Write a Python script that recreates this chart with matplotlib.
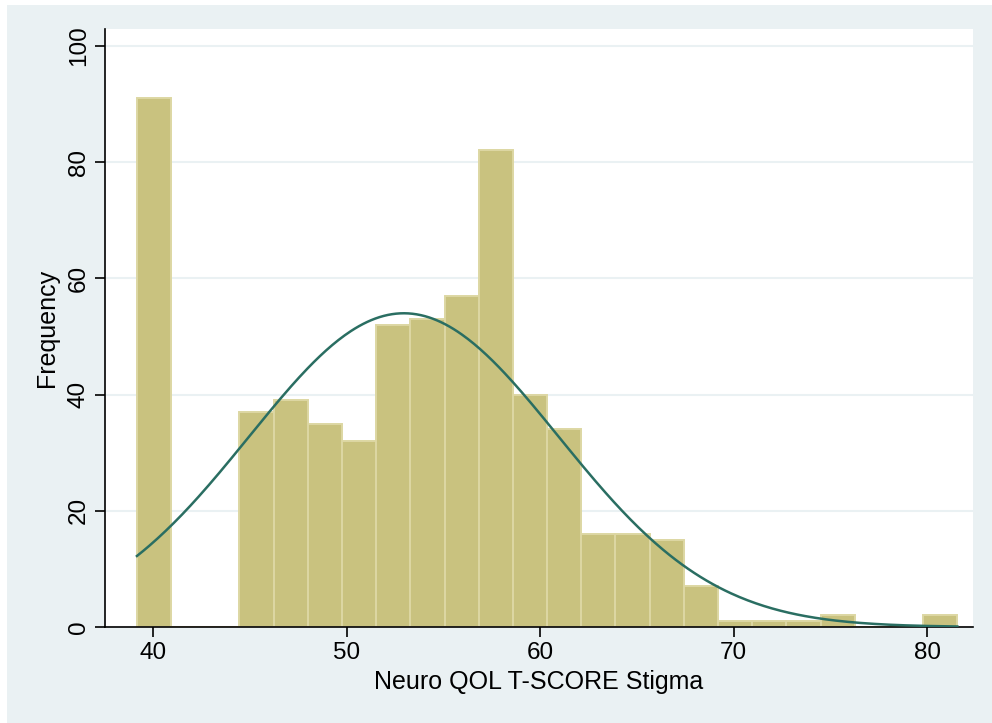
import numpy as np
import matplotlib
matplotlib.use("Agg")
import matplotlib.pyplot as plt
from matplotlib.patches import Rectangle

# ---- data ----
bin_start = 39.17
bin_width = 1.766
counts = [91, 0, 0, 37, 39, 35, 32, 52, 53, 57, 82, 40, 34, 16, 16, 15, 7,
          1, 1, 1, 2, 0, 0, 2]
fit_mean = 52.96
fit_sd = 8.0
x_ticks = [40, 50, 60, 70, 80]
y_ticks = [0, 20, 40, 60, 80, 100]
x_label = "Neuro QOL T-SCORE Stigma"
y_label = "Frequency"

plt.rcParams['font.family'] = ['Liberation Sans', 'DejaVu Sans']

W, H = 992, 723
fig = plt.figure(figsize=(W / 100, H / 100), dpi=100, facecolor="white")
bg = "#EAF1F3"
fig.patches.append(Rectangle((7 / W, 0), 1 - 7 / W, 1 - 5 / H,
                             transform=fig.transFigure, facecolor=bg,
                             edgecolor="none", zorder=-10))

ax = fig.add_axes([105 / W, 1 - 627 / H, (972.7 - 105) / W, (627 - 29) / H])
ax.set_facecolor("white")

n = len(counts)
edges = bin_start + bin_width * np.arange(n + 1)
ax.bar(edges[:-1], counts, width=bin_width, align="edge",
       color="#C9C27F", edgecolor="#DDD7A3", linewidth=1.4, zorder=2)

total = sum(counts)
xs = np.linspace(edges[0], edges[-1], 400)
ys = total * bin_width / (fit_sd * np.sqrt(2 * np.pi)) * np.exp(-0.5 * ((xs - fit_mean) / fit_sd) ** 2)
ax.plot(xs, ys, color="#2A6E62", linewidth=1.8, zorder=3)

ax.set_xlim(37.52, 82.35)
ax.set_ylim(0, 102.9)
ax.set_xticks(x_ticks)
ax.set_yticks(y_ticks)
ax.set_yticklabels([str(v) for v in y_ticks], rotation=90, va="center")
ax.grid(axis="y", color=bg, linewidth=1.5, zorder=0)
ax.set_axisbelow(True)
for s in ["top", "right"]:
    ax.spines[s].set_visible(False)
for s in ["left", "bottom"]:
    ax.spines[s].set_color("black")
    ax.spines[s].set_linewidth(1.2)
ax.tick_params(axis="both", direction="out", length=7, width=1.2,
               labelsize=17.5, colors="black", pad=4)
ax.set_xlabel(x_label, fontsize=18, labelpad=4)
ax.set_ylabel(y_label, fontsize=18, labelpad=6)

fig.savefig("out.png", dpi=100, facecolor=fig.get_facecolor())
